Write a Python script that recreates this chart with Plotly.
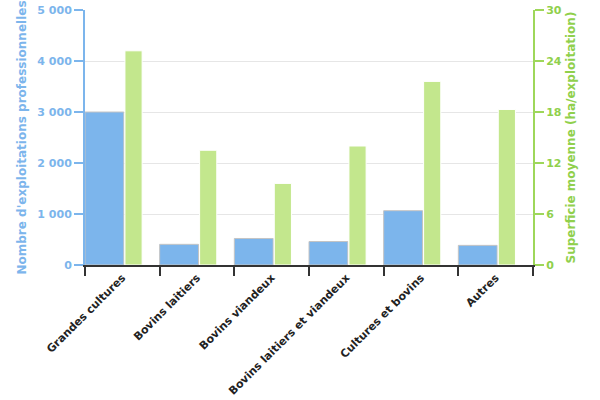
import plotly.graph_objects as go

categories = ["Grandes cultures", "Bovins laitiers", "Bovins viandeux",
              "Bovins laitiers et viandeux", "Cultures et bovins", "Autres"]
nb_exploitations = [3000, 405, 520, 460, 1065, 385]
superficie_moyenne = [25.2, 13.5, 9.6, 14.0, 21.6, 18.3]

blue = "#7cb5ec"
green_bar = "#c3e78d"
green_txt = "#90d04c"
font_fam = "DejaVu Sans"

fig = go.Figure()
fig.add_trace(go.Bar(
    x=categories, y=nb_exploitations, name="Nombre d'exploitations",
    marker=dict(color=blue, line=dict(color="#c4c4c4", width=1)),
    offset=-0.5, width=0.52, yaxis="y"))
fig.add_trace(go.Bar(
    x=categories, y=superficie_moyenne, name="Superficie moyenne",
    marker=dict(color=green_bar, line=dict(color="#ffffff", width=1)),
    offset=0.035, width=0.23, yaxis="y2"))

fig.update_layout(
    width=600, height=400,
    margin=dict(l=85, r=67, t=10, b=135),
    paper_bgcolor="white", plot_bgcolor="white",
    showlegend=False, barmode="overlay",
    separators=", ",
    font=dict(family=font_fam, size=11),
    xaxis=dict(
        type="category", tickangle=-45, tickson="boundaries", automargin=False,
        ticks="outside", ticklen=9, tickwidth=2, tickcolor="#333333",
        showline=True, linecolor="#333333", linewidth=2,
        tickfont=dict(family=font_fam, size=11, color="#222222", weight="bold"),
        showgrid=False, range=[-0.5, 5.5]),
    yaxis=dict(
        range=[0, 5000], dtick=1000, tickformat=",d", separatethousands=True,
        automargin=False, ticklabeloverflow="allow",
        showline=True, linecolor=blue, linewidth=2,
        ticks="outside", ticklen=9, tickwidth=2, tickcolor=blue,
        tickfont=dict(family=font_fam, size=11, color=blue, weight="bold"),
        gridcolor="#e6e6e6", gridwidth=1, zeroline=False,
        title=dict(text="Nombre d'exploitations professionnelles",
                   font=dict(family=font_fam, size=12, color=blue, weight="bold"),
                   standoff=8)),
    yaxis2=dict(
        range=[0, 30], dtick=6, overlaying="y", side="right", automargin=False,
        ticklabeloverflow="allow",
        showline=True, linecolor="#9ed75a", linewidth=2,
        ticks="outside", ticklen=9, tickwidth=2, tickcolor="#9ed75a",
        tickfont=dict(family=font_fam, size=11, color=green_txt, weight="bold"),
        showgrid=False, zeroline=False,
        title=dict(text="Superficie moyenne (ha/exploitation)",
                   font=dict(family=font_fam, size=12, color=green_txt, weight="bold"),
                   standoff=6)),
)

fig.write_html("out.html",
               config={"displayModeBar": False},
               post_script="document.body.style.margin='0';document.body.style.overflow='hidden';")
